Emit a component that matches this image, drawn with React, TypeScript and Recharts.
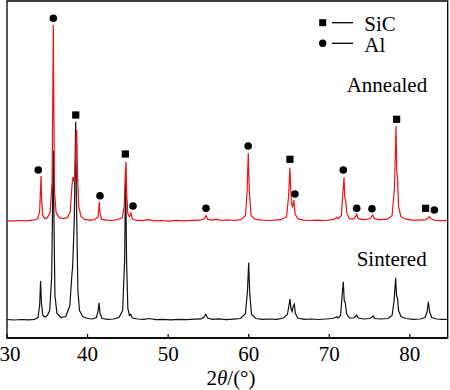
import React from 'react';
import { ComposedChart, Line, Scatter, XAxis, YAxis, ReferenceArea } from 'recharts';

const FONT = '"Liberation Serif", "Times New Roman", Times, serif';

// 2θ tick labels
const xTicks = [30, 40, 50, 60, 70, 80];

// vertical offsets of the two stacked patterns (arbitrary intensity units)
const ANNEALED_OFFSET = 116.3;
const SINTERED_OFFSET = 17.5;

// Annealed pattern: [2θ, intensity]
const annealed: [number, number][] = [
  [30.0, 1.0], [30.8, 0.5], [31.6, 1.2], [32.4, 0.8], [33.2, 1.5], [33.8, 3], [34.05, 10], [34.15, 30],
  [34.22, 45.7], [34.3, 22], [34.45, 6], [34.7, 3], [35.0, 4], [35.35, 9], [35.6, 40], [35.68, 120],
  [35.75, 196.7], [35.82, 110], [35.9, 30], [36.1, 9], [36.5, 4], [37.0, 3], [37.5, 4], [37.85, 10],
  [38.05, 35], [38.2, 44.7], [38.35, 40], [38.5, 60], [38.58, 85], [38.65, 91.7], [38.75, 50], [38.9, 15],
  [39.2, 5], [39.7, 2], [40.3, 1.5], [40.9, 2], [41.3, 5], [41.4, 14], [41.46, 20], [41.55, 8],
  [41.75, 2.5], [42.3, 1.5], [43.0, 1.2], [43.7, 2], [44.3, 4], [44.55, 15], [44.7, 50], [44.77, 60],
  [44.85, 30], [45.0, 8], [45.2, 5], [45.39, 8.7], [45.55, 3], [46.0, 1.5], [46.8, 1.0], [47.5, 2],
  [48.3, 0.8], [49.2, 1.2], [50.0, 0.6], [51.0, 1.4], [52.0, 0.8], [53.0, 1.3], [54.0, 1.5], [54.5, 3],
  [54.7, 6], [54.9, 2.5], [55.4, 1.5], [56.0, 2.5], [56.6, 1.2], [57.3, 1.8], [58.2, 1.2], [59.0, 2],
  [59.6, 6], [59.8, 30], [59.95, 68.4], [60.08, 30], [60.3, 6], [60.8, 2.5], [61.5, 1.5], [62.3, 1.2],
  [63.2, 1.5], [64.0, 2], [64.7, 5], [64.95, 25], [65.12, 54], [65.3, 18], [65.45, 15], [65.6, 21.7],
  [65.75, 8], [66.1, 3], [66.8, 1.5], [67.6, 1.2], [68.5, 1.5], [69.5, 1.2], [70.4, 2], [70.8, 3.5],
  [70.92, 4.4], [71.1, 3], [71.5, 6], [71.7, 30], [71.83, 44.4], [71.93, 24], [72.05, 20], [72.2, 8],
  [72.5, 3], [73.0, 2.5], [73.25, 5], [73.4, 7.4], [73.6, 3], [74.2, 2], [74.9, 2.5], [75.2, 4.5],
  [75.39, 6.7], [75.6, 3], [76.3, 2], [77.2, 2.5], [77.8, 6], [78.1, 35], [78.28, 95.7], [78.38, 50],
  [78.48, 43], [78.6, 15], [78.9, 5], [79.5, 2.5], [80.3, 1.5], [81.2, 1.5], [82.0, 2], [82.3, 4],
  [82.42, 5], [82.6, 3], [83.2, 1.2], [84.0, 1.0], [84.7, 1.2],
];

// Sintered pattern: [2θ, intensity]
const sintered: [number, number][] = [
  [30.0, 1], [30.9, 0.5], [31.8, 1], [32.7, 0.6], [33.4, 1.2], [33.85, 3], [34.05, 15], [34.17, 39.5],
  [34.27, 18], [34.45, 5], [34.7, 3.5], [35.0, 5], [35.3, 10], [35.55, 45], [35.68, 130], [35.75, 170],
  [35.83, 100], [35.95, 25], [36.2, 7], [36.7, 3], [37.3, 4], [37.8, 15], [38.05, 45], [38.15, 54],
  [38.35, 100], [38.47, 170], [38.53, 198.8], [38.62, 120], [38.8, 30], [39.0, 10], [39.4, 4], [40.0, 2],
  [40.6, 1.5], [41.1, 3], [41.3, 9], [41.42, 17.8], [41.55, 7], [41.8, 2], [42.5, 1.2], [43.2, 1.5],
  [43.9, 3], [44.35, 10], [44.6, 60], [44.72, 150], [44.84, 60], [45.0, 12], [45.2, 5], [45.35, 6.2],
  [45.55, 2.5], [46.2, 1.5], [47.0, 1.2], [47.6, 2], [48.5, 0.8], [49.4, 1.2], [50.3, 0.6], [51.3, 1.2],
  [52.3, 0.8], [53.3, 1.4], [54.1, 1.6], [54.45, 3.5], [54.66, 6.2], [54.9, 2.5], [55.5, 1.2], [56.3, 1.6],
  [57.2, 0.8], [58.1, 1.4], [59.0, 2], [59.6, 7], [59.85, 30], [60.0, 57.8], [60.12, 28], [60.35, 6],
  [60.9, 2], [61.7, 1.2], [62.6, 1.5], [63.5, 1.2], [64.3, 2.5], [64.8, 6], [65.0, 15], [65.12, 21.5],
  [65.25, 12], [65.38, 9], [65.52, 14], [65.66, 16.2], [65.8, 7], [66.1, 2.5], [66.9, 1.2], [67.8, 1.5],
  [68.7, 1.0], [69.6, 1.5], [70.4, 2], [70.75, 3], [70.92, 3.8], [71.1, 2.5], [71.4, 5], [71.6, 25],
  [71.74, 38.8], [71.86, 20], [71.98, 18], [72.15, 7], [72.5, 2.5], [73.0, 2.5], [73.25, 4], [73.4, 5.5],
  [73.6, 2.5], [74.3, 1.5], [75.0, 2], [75.3, 3.5], [75.45, 4.5], [75.65, 2], [76.4, 1.5], [77.3, 2],
  [77.8, 5], [78.05, 20], [78.24, 42.8], [78.35, 25], [78.47, 22], [78.6, 10], [78.9, 4], [79.5, 2],
  [80.4, 1.2], [81.3, 1.5], [81.9, 3], [82.15, 9], [82.3, 18.8], [82.45, 9], [82.7, 3], [83.3, 1.5],
  [84.0, 1.2], [84.7, 1],
];

// phase markers above annealed peaks: [2θ, height above annealed baseline]
const alMarks: [number, number][] = [
  [33.88, 51.7], [35.75, 203.4], [41.54, 26], [45.64, 15.7], [54.7, 13.4], [59.93, 75.7],
  [65.74, 27.7], [71.74, 51.7], [73.4, 13.4], [75.3, 13], [83.04, 11.7],
];
const sicMarks: [number, number][] = [
  [38.53, 106.7], [44.69, 67.7], [65.12, 62.4], [78.36, 102.4], [81.95, 13.4],
];

const annealedData = annealed.map(([x, y]) => ({ x, y: y + ANNEALED_OFFSET }));
const sinteredData = sintered.map(([x, y]) => ({ x, y: y + SINTERED_OFFSET }));
const alData = alMarks.map(([x, y]) => ({ x, y: y + ANNEALED_OFFSET }));
const sicData = sicMarks.map(([x, y]) => ({ x, y: y + ANNEALED_OFFSET }));

const AXIS_Y = 338;

const Tick = (props: any) => {
  const { x, payload } = props;
  const tx = Math.max(x, 10);
  return (
    <g>
      <line x1={x} x2={x} y1={AXIS_Y} y2={AXIS_Y - 4} stroke="#000" strokeWidth={1.2} />
      <text x={tx} y={360.5} textAnchor="middle" fontFamily={FONT} style={{ fontFamily: FONT }} fontSize={21} fill="#000">
        {payload.value}
      </text>
    </g>
  );
};

const circleShape = (p: any) => <circle cx={p.cx} cy={p.cy} r={3.8} fill="#000" />;
const squareShape = (p: any) => <rect x={p.cx - 3.6} y={p.cy - 3.6} width={7.2} height={7.2} fill="#000" />;

export default function App() {
  return (
    <div style={{ position: 'absolute', left: 0, top: 0, width: 450, height: 390, background: '#fff', fontFamily: FONT }}>
      <ComposedChart width={450} height={390} margin={{ top: 1, right: 2.3, left: 7, bottom: 22 }}>
        <XAxis
          type="number"
          dataKey="x"
          domain={[30, 84.7]}
          ticks={xTicks}
          interval={0}
          height={30}
          tickLine={false}
          axisLine={{ stroke: '#000', strokeWidth: 1.3 }}
          tick={Tick}
          allowDataOverflow
        />
        <YAxis type="number" dataKey="y" domain={[0, 337]} hide width={0} allowDataOverflow />
        <ReferenceArea x1={30} x2={84.7} y1={0} y2={337} fill="none" stroke="#000" strokeWidth={1.3} ifOverflow="visible" />
        <Line data={sinteredData} dataKey="y" type="linear" stroke="#111" strokeWidth={1.2} dot={false} isAnimationActive={false} />
        <Line data={annealedData} dataKey="y" type="linear" stroke="#ee1111" strokeWidth={1.2} dot={false} isAnimationActive={false} />
        <Scatter data={alData} dataKey="y" shape={circleShape} isAnimationActive={false} />
        <Scatter data={sicData} dataKey="y" shape={squareShape} isAnimationActive={false} />
      </ComposedChart>
      <svg width={450} height={390} style={{ position: 'absolute', left: 0, top: 0, pointerEvents: 'none' }}>
        <g fontFamily={FONT} style={{ fontFamily: FONT }} fontSize={21} fill="#000">
          <rect x={319.2} y={19.2} width={7} height={7} fill="#000" />
          <line x1={332} x2={353} y1={22.7} y2={22.7} stroke="#000" strokeWidth={1.3} />
          <text x={364.3} y={30.5}>SiC</text>
          <circle cx={322.7} cy={43.3} r={3.7} fill="#000" />
          <line x1={332} x2={353} y1={43.3} y2={43.3} stroke="#000" strokeWidth={1.3} />
          <text x={364.3} y={51.5}>Al</text>
          <text x={346.7} y={91.5}>Annealed</text>
          <text x={356.7} y={265.5}>Sintered</text>
          <text x={231} y={385} textAnchor="middle">
            2<tspan fontStyle="italic">θ</tspan>/(°)
          </text>
        </g>
      </svg>
    </div>
  );
}
